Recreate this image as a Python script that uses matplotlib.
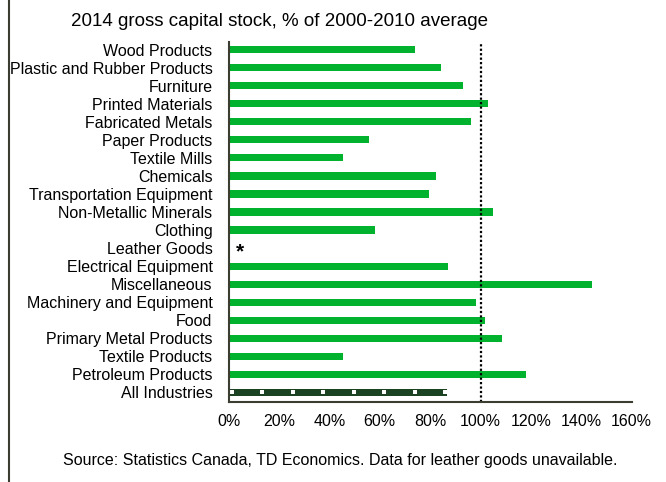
import numpy as np
import matplotlib.pyplot as plt
from matplotlib.lines import Line2D

plt.rcParams['font.family'] = ['Liberation Sans', 'DejaVu Sans']

industries = ['Wood Products', 'Plastic and Rubber Products', 'Furniture',
              'Printed Materials', 'Fabricated Metals', 'Paper Products',
              'Textile Mills', 'Chemicals', 'Transportation Equipment',
              'Non-Metallic Minerals', 'Clothing', 'Leather Goods',
              'Electrical Equipment', 'Miscellaneous', 'Machinery and Equipment',
              'Food', 'Primary Metal Products', 'Textile Products',
              'Petroleum Products', 'All Industries']
# % of 2000-2010 average, None = unavailable
values = [73.9, 84.3, 92.9, 102.9, 96.2, 55.9, 45.4, 82.3, 79.7, 104.8,
          58.0, None, 87.0, 144.4, 98.3, 101.7, 108.7, 45.4, 118.2, 86.6]
xticks = [0, 20, 40, 60, 80, 100, 120, 140, 160]

green = '#00b22d'
dark = '#1b4322'

fig = plt.figure(figsize=(6.66, 4.82), dpi=100)
ax = fig.add_axes([228.5 / 666, 1 - 402 / 482, 403.2 / 666, 360 / 482])

n = len(industries)
y = np.arange(n)
for i, v in enumerate(values):
    if v is None:
        ax.text(4.6, i + 0.22, '*', ha='center', va='center', fontsize=15, fontweight='bold')
        continue
    if industries[i] == 'All Industries':
        ax.barh(i, v, height=0.4, color=dark)
        dots = np.arange(1.3, v, 12.1)
        ax.plot(dots, [i] * len(dots), 's', color='white', ms=2.2, mew=0)
    else:
        ax.barh(i, v, height=0.4, color=green)

ax.axvline(100, color='black', ls=(0, (1, 1)), lw=1.6)

ax.set_ylim(n - 1 + 0.53, -0.42)
ax.set_xlim(0, 160)
ax.set_yticks(y)
ax.set_yticklabels(industries, fontsize=11.5)
ax.set_xticks(xticks)
ax.set_xticklabels(['%d%%' % t for t in xticks], fontsize=11.5)
ax.tick_params(axis='y', length=0, pad=11.5)
ax.tick_params(axis='x', length=0, pad=9)
for s in ['top', 'right']:
    ax.spines[s].set_visible(False)
for s in ['left', 'bottom']:
    ax.spines[s].set_color('#3a3d30')
    ax.spines[s].set_linewidth(1.5)

fig.text(279.5 / 666, 1 - 22 / 482, '2014 gross capital stock, % of 2000-2010 average',
         ha='center', va='center', fontsize=13.5)
fig.text(340 / 666, 1 - 460 / 482,
         'Source: Statistics Canada, TD Economics. Data for leather goods unavailable.',
         ha='center', va='center', fontsize=11.5)

fig.add_artist(Line2D([8.5 / 666, 8.5 / 666], [0, 1], transform=fig.transFigure,
                      color='#3a3d30', lw=1.5))

fig.savefig('out.png', dpi=100)
